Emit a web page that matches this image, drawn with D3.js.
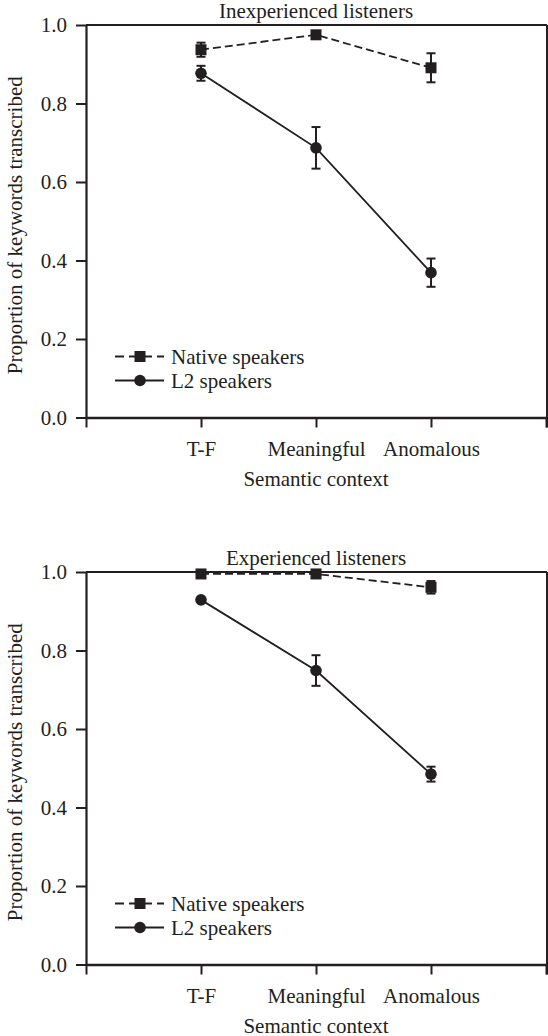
<!DOCTYPE html>
<html>
<head>
<meta charset="utf-8">
<script src="https://cdn.jsdelivr.net/npm/d3@7"></script>
<style>
  body { margin: 0; background: #fff; }
  svg { display: block; }
  text { font-family: "Liberation Serif", "DejaVu Serif", serif; fill: #231f20; }
</style>
</head>
<body>
<div id="chart"></div>
<script>
const width = 548;
const height = 1036;
const ink = '#231f20';

// x categories sit on ticks 1..3, ticks 0 and 4 are unlabeled
const contexts = ['T-F', 'Meaningful', 'Anomalous'];
const yTicks = [0, 0.2, 0.4, 0.6, 0.8, 1.0];

const inexpNative = [0.937, 0.975, 0.891];
const inexpNativeErr = [0.018, 0.005, 0.037];
const inexpL2 = [0.877, 0.687, 0.369];
const inexpL2Err = [0.019, 0.053, 0.036];

const expNative = [0.995, 0.995, 0.961];
const expNativeErr = [0.003, 0.003, 0.016];
const expL2 = [0.929, 0.749, 0.485];
const expL2Err = [0.005, 0.039, 0.019];

const margin = { left: 86, right: 546 };
const panelHeight = 392.5;

const svg = d3.select('#chart')
    .append('svg')
    .attr('width', width)
    .attr('height', height);

const xScale = d3.scaleLinear()
    .domain([0, 4])
    .range([margin.left, margin.right]);

function drawPanel(top, title, native, nativeErr, l2, l2Err) {
    const bottom = top + panelHeight;
    const yScale = d3.scaleLinear().domain([0, 1]).range([bottom, top]);
    const g = svg.append('g');

    // top and right frame
    g.append('line')
        .attr('x1', margin.left).attr('x2', margin.right + 1)
        .attr('y1', top).attr('y2', top)
        .attr('stroke', ink).attr('stroke-width', 2);
    g.append('line')
        .attr('x1', margin.right + 1).attr('x2', margin.right + 1)
        .attr('y1', top).attr('y2', bottom + 10)
        .attr('stroke', ink).attr('stroke-width', 2);

    // y axis
    const yAxis = g.append('g')
        .attr('transform', `translate(${margin.left},0)`)
        .call(d3.axisLeft(yScale).tickValues(yTicks).tickFormat(d3.format('.1f')).tickSize(10).tickSizeOuter(0));
    yAxis.select('.domain').attr('stroke', ink).attr('stroke-width', 2.2);
    yAxis.selectAll('.tick line').attr('stroke', ink).attr('stroke-width', 2);
    yAxis.selectAll('.tick text')
        .attr('x', -19)
        .attr('font-size', 21)
        .attr('fill', ink);

    // x axis
    const xAxis = g.append('g')
        .attr('transform', `translate(0,${bottom})`)
        .call(d3.axisBottom(xScale).tickValues([0, 1, 2, 3, 4])
            .tickFormat((d) => contexts[d - 1] || '')
            .tickSize(10).tickSizeOuter(0));
    xAxis.select('.domain').attr('stroke', ink).attr('stroke-width', 2.6);
    xAxis.selectAll('.tick line').attr('stroke', ink).attr('stroke-width', 2);
    xAxis.selectAll('.tick text')
        .attr('y', 24)
        .attr('font-size', 21)
        .attr('fill', ink);

    // titles
    g.append('text')
        .attr('x', 316).attr('y', top - 7)
        .attr('text-anchor', 'middle')
        .attr('font-size', 21)
        .text(title);
    g.append('text')
        .attr('x', 316).attr('y', bottom + 68)
        .attr('text-anchor', 'middle')
        .attr('font-size', 21)
        .text('Semantic context');
    g.append('text')
        .attr('transform', `translate(22,${(top + bottom) / 2 + 4}) rotate(-90)`)
        .attr('text-anchor', 'middle')
        .attr('font-size', 21)
        .text('Proportion of keywords transcribed');

    const line = d3.line()
        .x((d, i) => xScale(i + 1))
        .y((d) => yScale(d));

    const series = [
        { values: native, err: nativeErr, dash: '8,4', shape: 'square' },
        { values: l2, err: l2Err, dash: null, shape: 'circle' }
    ];

    series.forEach((s) => {
        g.append('path')
            .datum(s.values)
            .attr('d', line)
            .attr('fill', 'none')
            .attr('stroke', ink)
            .attr('stroke-width', 1.8)
            .attr('stroke-dasharray', s.dash);

        const bars = g.append('g');
        s.values.forEach((v, i) => {
            const cx = xScale(i + 1);
            const y1 = yScale(v + s.err[i]);
            const y2 = yScale(v - s.err[i]);
            bars.append('line')
                .attr('x1', cx).attr('x2', cx).attr('y1', y1).attr('y2', y2)
                .attr('stroke', ink).attr('stroke-width', 2);
            [y1, y2].forEach((yy) => {
                bars.append('line')
                    .attr('x1', cx - 4.5).attr('x2', cx + 4.5).attr('y1', yy).attr('y2', yy)
                    .attr('stroke', ink).attr('stroke-width', 2);
            });
        });

        const marks = g.append('g');
        s.values.forEach((v, i) => {
            if (s.shape === 'square') {
                marks.append('rect')
                    .attr('x', xScale(i + 1) - 5.5).attr('y', yScale(v) - 5.5)
                    .attr('width', 11).attr('height', 11)
                    .attr('fill', ink);
            } else {
                marks.append('circle')
                    .attr('cx', xScale(i + 1)).attr('cy', yScale(v))
                    .attr('r', 5.8)
                    .attr('fill', ink);
            }
        });
    });

    // legend
    const legend = g.append('g');
    series.forEach((s, i) => {
        const ly = bottom - 61 + i * 24;
        legend.append('line')
            .attr('x1', 115).attr('x2', 164).attr('y1', ly).attr('y2', ly)
            .attr('stroke', ink).attr('stroke-width', 1.8)
            .attr('stroke-dasharray', s.dash ? '9,5' : null);
        if (s.shape === 'square') {
            legend.append('rect')
                .attr('x', 140 - 5.5).attr('y', ly - 5.5)
                .attr('width', 11).attr('height', 11).attr('fill', ink);
        } else {
            legend.append('circle')
                .attr('cx', 140).attr('cy', ly).attr('r', 5.8).attr('fill', ink);
        }
        legend.append('text')
            .attr('x', 171).attr('y', ly + 7)
            .attr('font-size', 21)
            .text(i === 0 ? 'Native speakers' : 'L2 speakers');
    });
}

drawPanel(25, 'Inexperienced listeners', inexpNative, inexpNativeErr, inexpL2, inexpL2Err);
drawPanel(572, 'Experienced listeners', expNative, expNativeErr, expL2, expL2Err);
</script>
</body>
</html>
